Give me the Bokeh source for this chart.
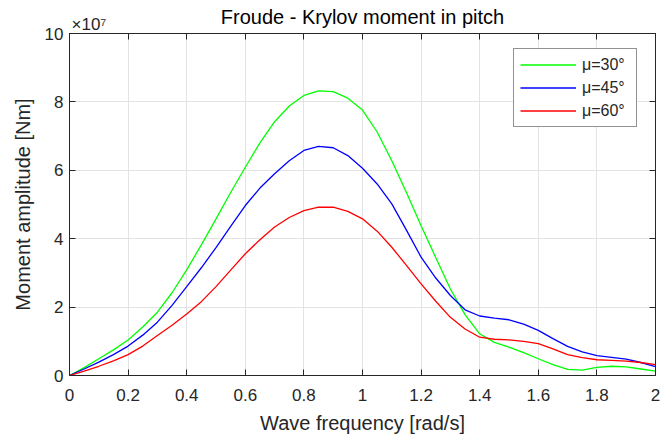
from bokeh.plotting import figure
from bokeh.models import (Range1d, FixedTicker, LinearAxis, CustomJSTickFormatter,
                          Legend, LegendItem)
from bokeh.embed import file_html
from bokeh.resources import INLINE

# ---- data (moment amplitude in units of 1e7 Nm) ----
freq = [0.0, 0.05, 0.1, 0.15, 0.2, 0.25, 0.3, 0.35, 0.4, 0.45, 0.5, 0.55, 0.6, 0.65,
        0.7, 0.75, 0.8, 0.85, 0.9, 0.95, 1.0, 1.05, 1.1, 1.15, 1.2, 1.25, 1.3, 1.35,
        1.4, 1.45, 1.5, 1.55, 1.6, 1.65, 1.7, 1.75, 1.8, 1.85, 1.9, 1.95, 2.0]
mu30 = [0.0, 0.23, 0.49, 0.75, 1.04, 1.42, 1.85, 2.42, 3.09, 3.82, 4.58, 5.35, 6.09, 6.80,
        7.42, 7.88, 8.19, 8.32, 8.30, 8.11, 7.76, 7.12, 6.28, 5.35, 4.38, 3.45, 2.53, 1.78,
        1.22, 0.97, 0.83, 0.67, 0.49, 0.32, 0.18, 0.16, 0.24, 0.27, 0.25, 0.19, 0.13]
mu45 = [0.0, 0.19, 0.39, 0.61, 0.86, 1.18, 1.56, 2.05, 2.60, 3.15, 3.74, 4.36, 4.97, 5.48,
        5.90, 6.28, 6.58, 6.70, 6.66, 6.43, 6.06, 5.60, 5.02, 4.25, 3.46, 2.85, 2.34, 1.92,
        1.74, 1.68, 1.63, 1.50, 1.32, 1.08, 0.85, 0.69, 0.58, 0.53, 0.48, 0.38, 0.26]
mu60 = [0.0, 0.13, 0.27, 0.43, 0.61, 0.86, 1.17, 1.47, 1.80, 2.16, 2.60, 3.08, 3.56, 3.97,
        4.34, 4.62, 4.82, 4.92, 4.92, 4.80, 4.58, 4.22, 3.75, 3.22, 2.68, 2.17, 1.70, 1.36,
        1.12, 1.06, 1.04, 1.00, 0.93, 0.78, 0.61, 0.52, 0.46, 0.44, 0.42, 0.38, 0.32]
series_labels = ["μ=30°", "μ=45°", "μ=60°"]
series_colors = ["#00ff00", "#0000ff", "#ff0000"]
xticks = [0, 0.2, 0.4, 0.6, 0.8, 1, 1.2, 1.4, 1.6, 1.8, 2]
yticks = [0, 2, 4, 6, 8, 10]
title_text = "Froude - Krylov moment in pitch"
exponent_text = "×10⁷"
exponent_pos = [0.0666]
xlabel = "Wave frequency [rad/s]"
ylabel = "Moment amplitude [Nm]"

FONT = "Liberation Sans"
AX = "#262626"

p = figure(width=660, height=438, output_backend="svg", toolbar_location=None,
           title=None, x_range=Range1d(0, 2), y_range=Range1d(0, 10),
           min_border_left=69, min_border_right=5, min_border_top=33,
           min_border_bottom=63)
p.background_fill_color = "white"
p.border_fill_color = "white"
p.outline_line_color = AX
p.outline_line_width = 1

for ax in (p.xaxis[0], p.yaxis[0]):
    ax.major_tick_in = 6
    ax.major_tick_out = 0
    ax.minor_tick_in = 0
    ax.minor_tick_out = 0
    ax.axis_line_color = AX
    ax.major_tick_line_color = AX
    ax.major_label_text_color = AX
    ax.major_label_text_font = FONT
    ax.major_label_text_font_size = "17px"
    ax.axis_label_text_font = FONT
    ax.axis_label_text_font_size = "20px"
    ax.axis_label_text_font_style = "normal"
    ax.axis_label_text_color = AX
    ax.formatter = CustomJSTickFormatter(code="return tick.toString()")

p.xaxis.ticker = FixedTicker(ticks=xticks)
p.yaxis.ticker = FixedTicker(ticks=yticks)
p.xaxis.axis_label = xlabel
p.yaxis.axis_label = ylabel
p.xaxis.major_label_standoff = 13
p.yaxis.major_label_standoff = 6
p.xaxis.axis_label_standoff = 8
p.yaxis.axis_label_standoff = 8

p.xgrid.ticker = FixedTicker(ticks=xticks)
p.ygrid.ticker = FixedTicker(ticks=yticks)
p.grid.grid_line_color = "#e3e3e3"
p.grid.grid_line_width = 1

# box ticks on top and right
top_ax = LinearAxis(ticker=FixedTicker(ticks=xticks),
                    major_tick_in=6, major_tick_out=0, minor_tick_in=0, minor_tick_out=0,
                    major_label_text_font_size="1px", major_label_text_alpha=0,
                    major_label_standoff=0, axis_line_color=AX, major_tick_line_color=AX)
right_ax = LinearAxis(ticker=FixedTicker(ticks=yticks),
                      major_tick_in=6, major_tick_out=0, minor_tick_in=0, minor_tick_out=0,
                      major_label_text_font_size="1px", major_label_text_alpha=0,
                      major_label_standoff=0, axis_line_color=AX, major_tick_line_color=AX)
p.add_layout(top_ax, "above")
p.add_layout(right_ax, "right")

# exponent (as a tick label) and title (as the axis label) above the frame
text_ax = LinearAxis(ticker=FixedTicker(ticks=exponent_pos),
                     formatter=CustomJSTickFormatter(code="return '%s'" % exponent_text),
                     major_tick_in=0, major_tick_out=0, minor_tick_in=0, minor_tick_out=0,
                     major_tick_line_color=None, axis_line_color=None,
                     major_label_standoff=0, major_label_text_font=FONT,
                     major_label_text_font_size="17px", major_label_text_color=AX,
                     axis_label=title_text, axis_label_text_font=FONT,
                     axis_label_text_font_size="20px", axis_label_text_font_style="normal",
                     axis_label_text_color="black", axis_label_standoff=-16)
p.add_layout(text_ax, "above")

items = []
for ys, lab, col in zip((mu30, mu45, mu60), series_labels, series_colors):
    r = p.line(freq, ys, line_color=col, line_width=1.3)
    items.append(LegendItem(label=lab, renderers=[r]))

legend = Legend(items=items, location=(444, 248), padding=6, spacing=4,
                glyph_height=19, glyph_width=56, label_height=19, label_width=48,
                label_standoff=6, label_text_font=FONT, label_text_font_size="16px",
                label_text_color=AX, border_line_color=AX, border_line_width=1,
                background_fill_color="white", background_fill_alpha=1)
p.add_layout(legend, "center")

open("out.html", "w").write(file_html(p, INLINE))
